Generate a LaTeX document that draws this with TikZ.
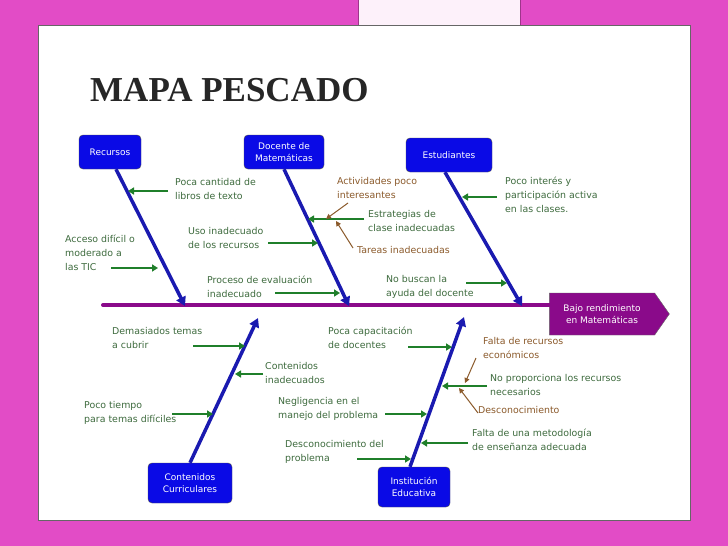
\documentclass[tikz,border=0pt]{standalone}
\usepackage{fontspec}
\setmainfont{DejaVu Sans}
\newfontfamily\titlefont{Liberation Serif}
\usetikzlibrary{arrows.meta,shapes.symbols}
\definecolor{bgpink}{HTML}{E24CC6}
\definecolor{boxblue}{HTML}{0A0AE6}
\definecolor{bonblue}{HTML}{1A1AB0}
\definecolor{spine}{HTML}{8A0A8A}
\definecolor{arrgreen}{HTML}{1F7F2A}
\definecolor{txtgreen}{HTML}{3E6B3E}
\definecolor{brownc}{HTML}{8B5A2B}
\tikzset{
  catbox/.style={draw=black!70,fill=boxblue,rounded corners=4pt,text=white,align=center,font=\fontsize{9}{12}\selectfont,minimum height=34pt,inner sep=4pt},
  bone/.style={bonblue,line width=3.5pt,-{Triangle[length=9pt,width=10pt]}},
  cause/.style={arrgreen,line width=2.2pt,-{Triangle[length=6pt,width=7pt]}},
  sub/.style={brownc,line width=1pt,-{Triangle[length=5pt,width=5pt]}},
  gtxt/.style={anchor=north west,inner sep=0,align=left,text=txtgreen,font=\fontsize{9.4}{14}\selectfont},
  btxt/.style={gtxt,text=brownc}
}
\begin{document}
\begin{tikzpicture}[x=1pt,y=-1pt]
\fill[bgpink] (0,0) rectangle (728,546);
\useasboundingbox (0,0) rectangle (728,546);
\fill[white!92!bgpink,draw=bgpink!70!black] (358,-2) rectangle (520,58);
\fill[white,draw=black!60] (38,25) rectangle (690,520);
\node[anchor=west,inner sep=0,font=\titlefont\bfseries\fontsize{35}{35}\selectfont,text=black!85] (title) at (90,90) {MAPA PESCADO};
% boxes
\node[catbox,minimum width=62pt] (rec) at (110,152) {Recursos};
\node[catbox,minimum width=80pt] (doc) at (284,152) {Docente de\\Matemáticas};
\node[catbox,minimum width=86pt] (est) at (449,155) {Estudiantes};
\node[catbox,minimum width=84pt,minimum height=40pt] (con) at (190,483) {Contenidos\\Curriculares};
\node[catbox,minimum width=72pt,minimum height=40pt] (ins) at (414,487) {Institución\\Educativa};
\node[signal,signal to=east,signal pointer angle=110,fill=spine,draw=black!60,text=white,align=center,font=\fontsize{9}{12}\selectfont,minimum width=120pt,minimum height=42pt,inner sep=3pt] (eff) at (602,314) {Bajo rendimiento\\en Matemáticas};
% spine
\coordinate (s0) at (103,305);
\draw[spine,line width=4pt,line cap=round] (s0) -- (eff.west |- s0);
% bones
\coordinate (r1) at (185,306); \coordinate (d1) at (349,306); \coordinate (e1) at (522,306);
\coordinate (c1) at (258,318); \coordinate (i1) at (464,317);
\draw[bone] (rec.south) ++(6,0) -- (r1);
\draw[bone] (doc.south) -- (d1);
\draw[bone] (est.south) ++(-4,0) -- (e1);
\draw[bone] (con.north) -- (c1);
\draw[bone] (ins.north) ++(-4,0) -- (i1);
% upper texts
\node[gtxt] (t1) at (175,178) {Poca cantidad de\\libros de texto};
\coordinate (a1) at (168,191);\coordinate (b1) at (128,191);
\draw[cause] (a1) -- (b1);
\node[gtxt] (t2) at (65,235) {Acceso difícil o\\moderado a\\las TIC};
\coordinate (a2) at (111,268);\coordinate (b2) at (158,268);
\draw[cause] (a2) -- (b2);
\node[gtxt] (t3) at (188,227) {Uso inadecuado\\de los recursos};
\coordinate (a3) at (268,243);\coordinate (b3) at (318,243);
\draw[cause] (a3) -- (b3);
\node[gtxt] (t4) at (207,276) {Proceso de evaluación\\inadecuado};
\coordinate (a4) at (275,293);\coordinate (b4) at (340,293);
\draw[cause] (a4) -- (b4);
\node[btxt] (t5) at (337,177) {Actividades poco\\interesantes};
\node[gtxt] (t6) at (368,210) {Estrategias de\\clase inadecuadas};
\coordinate (a6) at (364,219);\coordinate (b6) at (308,219);
\draw[cause] (a6) -- (b6);
\node[btxt] (t7) at (357,246) {Tareas inadecuadas};
\coordinate (a5) at (348,203);\coordinate (b5) at (326,219);
\draw[sub] (a5) -- (b5);
\coordinate (a7) at (353,248);\coordinate (b7) at (336,221);
\draw[sub] (a7) -- (b7);
\node[gtxt] (t8) at (505,177) {Poco interés y\\participación activa\\en las clases.};
\coordinate (a8) at (497,197);\coordinate (b8) at (462,197);
\draw[cause] (a8) -- (b8);
\node[gtxt] (t9) at (386,275) {No buscan la\\ayuda del docente};
\coordinate (a9) at (466,283);\coordinate (b9) at (507,283);
\draw[cause] (a9) -- (b9);
% lower texts
\node[gtxt] (u1) at (112,327) {Demasiados temas\\a cubrir};
\coordinate (p1) at (193,346);\coordinate (q1) at (245,346);
\draw[cause] (p1) -- (q1);
\node[gtxt] (u2) at (265,362) {Contenidos\\inadecuados};
\coordinate (p2) at (263,374);\coordinate (q2) at (235,374);
\draw[cause] (p2) -- (q2);
\node[gtxt] (u3) at (84,401) {Poco tiempo\\para temas difíciles};
\coordinate (p3) at (172,414);\coordinate (q3) at (213,414);
\draw[cause] (p3) -- (q3);
\node[gtxt] (u4) at (328,327) {Poca capacitación\\de docentes};
\coordinate (p4) at (408,347);\coordinate (q4) at (452,347);
\draw[cause] (p4) -- (q4);
\node[btxt] (u5) at (483,337) {Falta de recursos\\económicos};
\node[gtxt] (u6) at (490,374) {No proporciona los recursos\\necesarios};
\coordinate (p6) at (487,386);\coordinate (q6) at (442,386);
\draw[cause] (p6) -- (q6);
\coordinate (p5) at (476,358);\coordinate (q5) at (465,383);
\draw[sub] (p5) -- (q5);
\node[btxt] (u7) at (478,406) {Desconocimiento};
\coordinate (p7) at (478,413);\coordinate (q7) at (459,388);
\draw[sub] (p7) -- (q7);
\node[gtxt] (u8) at (278,397) {Negligencia en el\\manejo del problema};
\coordinate (p8) at (385,414);\coordinate (q8) at (427,414);
\draw[cause] (p8) -- (q8);
\node[gtxt] (u9) at (472,429) {Falta de una metodología\\de enseñanza adecuada};
\coordinate (p9) at (468,443);\coordinate (q9) at (421,443);
\draw[cause] (p9) -- (q9);
\node[gtxt] (u10) at (285,440) {Desconocimiento del\\problema};
\coordinate (p10) at (357,459);\coordinate (q10) at (411,459);
\draw[cause] (p10) -- (q10);
\end{tikzpicture}
\end{document}
